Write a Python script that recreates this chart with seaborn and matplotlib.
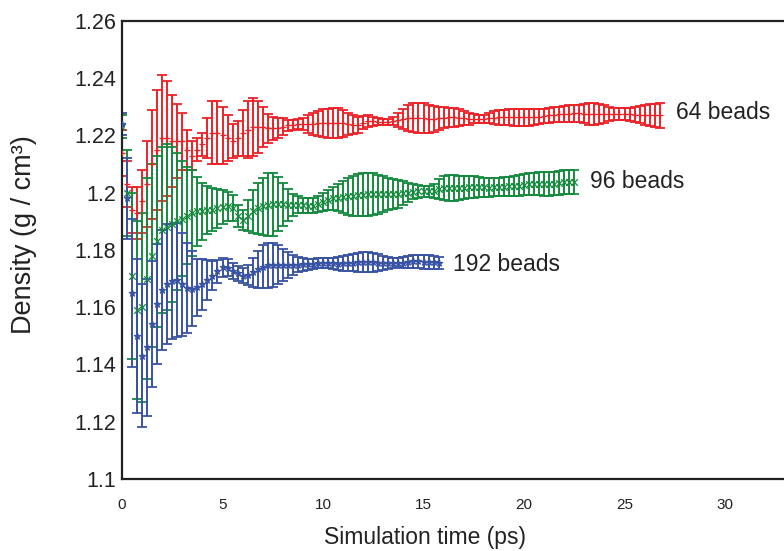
import numpy as np
import pandas as pd
import matplotlib
matplotlib.use("Agg")
import matplotlib.pyplot as plt
from matplotlib import font_manager
import seaborn as sns

DT = 0.25

# 64 beads
red_mean = [1.214, 1.203, 1.194, 1.193, 1.197, 1.203, 1.210, 1.215, 1.219, 1.219,
            1.218, 1.218, 1.218, 1.215, 1.213, 1.215, 1.217, 1.219, 1.221, 1.221,
            1.220, 1.219, 1.218, 1.219, 1.221, 1.222, 1.223, 1.223, 1.223, 1.2225,
            1.2225, 1.2225, 1.223, 1.2235, 1.2237, 1.224, 1.224, 1.224, 1.224, 1.2242,
            1.2243, 1.2243, 1.2243, 1.2243, 1.2242, 1.224, 1.2238, 1.2238, 1.2245, 1.225,
            1.225, 1.2248, 1.2246, 1.2246, 1.225, 1.2255, 1.2258, 1.226, 1.2262, 1.2262,
            1.226, 1.2258, 1.2258, 1.226, 1.2262, 1.2263, 1.2263, 1.2262, 1.226, 1.2258,
            1.2258, 1.2258, 1.2258, 1.226, 1.2262, 1.2263, 1.2263, 1.2263, 1.2263, 1.2263,
            1.2263, 1.2263, 1.2264, 1.2266, 1.2268, 1.227, 1.2272, 1.2274, 1.2275, 1.2276,
            1.2277, 1.2277, 1.2276, 1.2275, 1.2275, 1.2275, 1.2275, 1.2275, 1.2275, 1.2275,
            1.2275, 1.2274, 1.2273, 1.2272, 1.2271, 1.2271, 1.227, 1.227]
red_err = [0.008, 0.008, 0.008, 0.009, 0.011, 0.015, 0.019, 0.021, 0.022, 0.020,
           0.016, 0.013, 0.010, 0.007, 0.005, 0.004, 0.004, 0.007, 0.011, 0.011,
           0.010, 0.008, 0.006, 0.006, 0.008, 0.010, 0.010, 0.009, 0.007, 0.005,
           0.004, 0.0035, 0.003, 0.002, 0.0017, 0.0018, 0.002, 0.003, 0.0038, 0.0044,
           0.0048, 0.005, 0.0053, 0.0053, 0.0048, 0.004, 0.0032, 0.0028, 0.0022, 0.002,
           0.0016, 0.0012, 0.001, 0.001, 0.0015, 0.0025, 0.0035, 0.0045, 0.005, 0.0052,
           0.0052, 0.0049, 0.0045, 0.004, 0.0037, 0.0034, 0.0033, 0.003, 0.0025, 0.002,
           0.0016, 0.0014, 0.0015, 0.0018, 0.0022, 0.0025, 0.0027, 0.0028, 0.0029, 0.003,
           0.003, 0.0029, 0.0027, 0.0026, 0.0025, 0.0025, 0.0026, 0.0027, 0.0028, 0.0029,
           0.003, 0.003, 0.0034, 0.0038, 0.0037, 0.0034, 0.003, 0.0026, 0.0022, 0.0021,
           0.0021, 0.0023, 0.0026, 0.003, 0.0034, 0.0038, 0.0041, 0.0044]

# 96 beads
green_mean = [1.223, 1.200, 1.171, 1.159, 1.160, 1.170, 1.178, 1.183, 1.187, 1.188,
              1.189, 1.190, 1.191, 1.192, 1.193, 1.1935, 1.1935, 1.194, 1.194, 1.1945,
              1.195, 1.1952, 1.1948, 1.192, 1.1905, 1.192, 1.1935, 1.1945, 1.1952, 1.1958,
              1.196, 1.196, 1.196, 1.1958, 1.1958, 1.1958, 1.1956, 1.1955, 1.1955, 1.196,
              1.1968, 1.1975, 1.198, 1.1983, 1.1986, 1.1988, 1.199, 1.1992, 1.1993, 1.1994,
              1.1995, 1.1995, 1.1995, 1.1996, 1.1996, 1.1996, 1.1998, 1.2, 1.2003, 1.2005,
              1.2005, 1.2005, 1.2007, 1.2012, 1.2016, 1.2017, 1.2017, 1.2017, 1.2018, 1.2019,
              1.202, 1.202, 1.2019, 1.2018, 1.2019, 1.202, 1.2021, 1.2022, 1.2024, 1.2025,
              1.2028, 1.203, 1.203, 1.2031, 1.2031, 1.2031, 1.2032, 1.2034, 1.2036, 1.2037,
              1.2038]
green_err = [0.004, 0.015, 0.029, 0.031, 0.033, 0.035, 0.032, 0.030, 0.029, 0.029,
             0.027, 0.024, 0.020, 0.017, 0.015, 0.012, 0.010, 0.0085, 0.0075, 0.0068,
             0.006, 0.005, 0.0045, 0.0038, 0.0035, 0.0055, 0.0075, 0.009, 0.010, 0.011,
             0.011, 0.0095, 0.0075, 0.0055, 0.0038, 0.003, 0.0027, 0.0025, 0.0025, 0.0028,
             0.0032, 0.0036, 0.004, 0.0048, 0.0056, 0.0064, 0.007, 0.0073, 0.0075, 0.0075,
             0.0073, 0.0068, 0.0062, 0.0057, 0.0053, 0.005, 0.0042, 0.0033, 0.0026, 0.0022,
             0.002, 0.002, 0.0025, 0.0035, 0.0042, 0.0045, 0.0045, 0.0043, 0.0041, 0.0039,
             0.0037, 0.0035, 0.0033, 0.0033, 0.0032, 0.0032, 0.0033, 0.0034, 0.0035, 0.0036,
             0.0037, 0.0038, 0.0039, 0.004, 0.0041, 0.0041, 0.0041, 0.0041, 0.0042, 0.0042,
             0.0042]

# 192 beads
blue_mean = [1.224, 1.198, 1.165, 1.150, 1.143, 1.146, 1.154, 1.161, 1.166, 1.168,
             1.169, 1.1695, 1.168, 1.1667, 1.1665, 1.167, 1.168, 1.1695, 1.171, 1.1725,
             1.174, 1.1738, 1.1728, 1.1718, 1.171, 1.1712, 1.1722, 1.1733, 1.1742, 1.1746,
             1.1747, 1.1748, 1.1748, 1.1748, 1.1748, 1.1749, 1.175, 1.175, 1.1752, 1.1754,
             1.1754, 1.1754, 1.1753, 1.1752, 1.1753, 1.1755, 1.1756, 1.1757, 1.1758, 1.1758,
             1.1757, 1.1756, 1.1755, 1.1755, 1.1755, 1.1755, 1.1756, 1.1758, 1.176, 1.176,
             1.1759, 1.1758, 1.1757, 1.1756]
blue_err = [0.004, 0.014, 0.026, 0.027, 0.025, 0.024, 0.022, 0.021, 0.021, 0.021,
            0.020, 0.020, 0.018, 0.0157, 0.013, 0.010, 0.009, 0.007, 0.005, 0.004,
            0.0033, 0.003, 0.0028, 0.0027, 0.0026, 0.0035, 0.005, 0.0065, 0.0075, 0.0078,
            0.0077, 0.0068, 0.0055, 0.0045, 0.0035, 0.0027, 0.0022, 0.002, 0.0018, 0.0018,
            0.0018, 0.0018, 0.002, 0.0022, 0.0025, 0.0028, 0.0031, 0.0033, 0.0035, 0.0035,
            0.0033, 0.0029, 0.0024, 0.002, 0.0017, 0.0016, 0.0018, 0.0021, 0.0023, 0.0024,
            0.0024, 0.0023, 0.0022, 0.0021]

series_labels = ["64 beads", "96 beads", "192 beads"]
series_colors = ["#ec2227", "#148a3e", "#3953a4"]
series_markers = ["+", "x", "*"]
label_pos = [(27.55, 1.2279), (23.3, 1.2041), (16.45, 1.1749)]

x_ticks = [0, 5, 10, 15, 20, 25, 30]
y_ticks = [1.1, 1.12, 1.14, 1.16, 1.18, 1.2, 1.22, 1.24, 1.26]
y_tick_labels = ["1.1", "1.12", "1.14", "1.16", "1.18", "1.2", "1.22", "1.24", "1.26"]

sns.set_style("white")
plt.rcParams["font.family"] = ["Liberation Sans", "DejaVu Sans"]

narrow = "Liberation Sans"
for f in font_manager.fontManager.ttflist:
    if "Narrow" in f.name and "Liberation" in f.name:
        narrow = f.name
        break

fig = plt.figure(figsize=(7.84, 5.51), dpi=100)
ax = fig.add_axes([122 / 784, 1 - 479 / 551, 1 - 122 / 784, (479 - 21) / 551])

means = [red_mean, green_mean, blue_mean]
errs = [red_err, green_err, blue_err]
for lab, col, mk, m, e in zip(series_labels, series_colors, series_markers, means, errs):
    t = np.arange(len(m)) * DT
    df = pd.DataFrame({"t": t, "d": m, "e": e})
    ax.errorbar(df["t"], df["d"], yerr=df["e"], fmt="none", ecolor=col,
                elinewidth=1.4, capsize=3.8, capthick=1.3)
    sns.scatterplot(data=df, x="t", y="d", ax=ax, color=col, edgecolor=col,
                    marker=mk, s=22, linewidth=0.9, legend=False, zorder=3)

for lab, (lx, ly) in zip(series_labels, label_pos):
    ax.text(lx, ly, lab, fontsize=16.5, color="#222222", va="center", ha="left")

ax.set_xlim(0, 662 / 20.1)
ax.set_ylim(1.1, 1.26)
ax.set_xticks(x_ticks)
ax.set_xticklabels([str(v) for v in x_ticks], fontfamily=[narrow, "DejaVu Sans"],
                   fontsize=11)
ax.set_yticks(y_ticks)
ax.set_yticklabels(y_tick_labels, fontsize=15.5)
ax.tick_params(axis="both", direction="in", length=7, width=1.2, color="#222222",
               labelcolor="#222222")
ax.tick_params(axis="x", pad=14)
ax.tick_params(axis="y", pad=4)
for side in ["left", "bottom", "top"]:
    ax.spines[side].set_color("#222222")
    ax.spines[side].set_linewidth(1.6)
ax.spines["right"].set_visible(False)

ax.set_xlabel("Simulation time (ps)", fontsize=16.5, color="#222222")
ax.set_ylabel("Density (g / cm\u00b3)", fontsize=19.5, color="#222222")
ax.xaxis.set_label_coords(0.458, -0.127)
ax.yaxis.set_label_coords(-0.148, 0.534)
ax.xaxis.label.set_va("center")
ax.yaxis.label.set_va("center")

fig.savefig("out.png", dpi=100)
